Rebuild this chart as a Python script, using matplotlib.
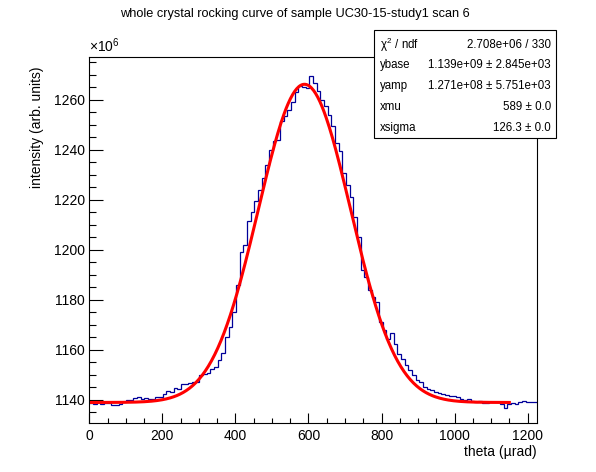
import numpy as np
import matplotlib
matplotlib.use("Agg")
import matplotlib.pyplot as plt
from matplotlib.ticker import MultipleLocator, FixedLocator

plt.rcParams['font.family'] = ['Liberation Sans', 'DejaVu Sans']
plt.rcParams['mathtext.fontset'] = 'custom'
plt.rcParams['mathtext.rm'] = 'Liberation Sans'
plt.rcParams['mathtext.it'] = 'Liberation Sans'

# ---- data (intensity in units of 1e6, theta in urad) ----
theta_min = 0.0
theta_max = 1225.0
intensity = [
    1138.7, 1138.5, 1139.0, 1138.3, 1138.8, 1138.6, 1138.0, 1137.8, 1138.2, 1139.3,
    1140.0, 1139.8, 1140.6, 1141.0, 1140.3, 1140.6, 1140.2, 1140.5, 1141.3, 1141.0,
    1142.5, 1143.5, 1143.0, 1144.7, 1144.5, 1146.4, 1146.2, 1146.6, 1147.3, 1147.0,
    1150.0, 1150.5, 1150.7, 1152.5, 1153.3, 1156.0, 1158.7, 1165.3, 1169.3, 1175.3,
    1186.0, 1199.0, 1202.0, 1211.3, 1215.0, 1219.5, 1224.0, 1228.7, 1234.0, 1240.0,
    1243.3, 1244.0, 1251.3, 1253.3, 1256.0, 1259.0, 1263.0, 1265.3, 1265.0, 1264.7,
    1269.5, 1266.5, 1263.3, 1260.0, 1257.5, 1254.0, 1249.3, 1242.7, 1239.3, 1230.7,
    1226.0, 1221.0, 1213.0, 1205.0, 1192.0, 1189.3, 1184.0, 1181.3, 1179.3, 1171.3,
    1168.0, 1164.5, 1166.7, 1162.2, 1158.5, 1156.5, 1154.0, 1152.0, 1150.0, 1148.0,
    1147.3, 1145.3, 1144.5, 1144.0, 1143.0, 1142.7, 1142.5, 1142.0, 1141.6, 1141.4,
    1141.2, 1140.2, 1140.0, 1140.3, 1139.5, 1139.3, 1139.6, 1138.7, 1138.9, 1139.3,
    1139.0, 1139.2, 1138.4, 1136.9, 1138.4, 1138.6, 1138.3, 1139.3, 1139.6, 1139.0,
    1139.2, 1139.0,
]

# fit parameters (from the stats box)
ybase = 1139.0      # x1e6
yamp = 127.1        # x1e6
xmu = 589.0
xsigma = 126.3
fit_range = (0.0, 1150.0)

stat_labels = [r"$\chi^{2}$ / ndf", "ybase", "yamp", "xmu", "xsigma"]
stat_values = ["2.708e+06 / 330", "1.139e+09 \u00b1 2.845e+03",
               "1.271e+08 \u00b1 5.751e+03", "589 \u00b1 0.0", "126.3 \u00b1 0.0"]

x_ticks = [0, 200, 400, 600, 800, 1000, 1200]
y_ticks = [1140, 1160, 1180, 1200, 1220, 1240, 1260]

# ---- figure ----
W, H = 596, 472
fig = plt.figure(figsize=(W / 100, H / 100), dpi=100)
L, R, T, B = 89.4, 536.7, 57.0, 423.0
ax = fig.add_axes([L / W, 1 - B / H, (R - L) / W, (B - T) / H])

n = len(intensity)
edges = np.linspace(theta_min, theta_max, n + 1)
ax.stairs(intensity, edges, color='#000099', linewidth=0.9, baseline=None)

xf = np.linspace(fit_range[0], fit_range[1], 400)
yf = ybase + yamp * np.exp(-(xf - xmu) ** 2 / (2 * xsigma ** 2))
ax.plot(xf, yf, color='#ff0000', linewidth=2.2)

ax.set_xlim(theta_min, theta_max)
ax.set_ylim(1130.8, 1277.0)
ax.xaxis.set_major_locator(FixedLocator(x_ticks))
ax.xaxis.set_minor_locator(MultipleLocator(50))
ax.yaxis.set_major_locator(FixedLocator(y_ticks))
ax.yaxis.set_minor_locator(MultipleLocator(5))
ax.tick_params(axis='both', which='both', direction='in', top=False, right=False,
               labelsize=10, width=0.8, color='black')
ax.tick_params(axis='x', which='major', length=7.5, pad=4)
ax.tick_params(axis='x', which='minor', length=3.8)
ax.tick_params(axis='y', which='major', length=10, pad=3)
ax.tick_params(axis='y', which='minor', length=5)
for s in ax.spines.values():
    s.set_linewidth(0.8)

fig.text(L / W, 1 - 52 / H, r"$\times10^{6}$", fontsize=10, ha='left', va='baseline')

fig.text(0.494, 1 - 14 / H, "whole crystal rocking curve of sample UC30-15-study1 scan 6",
         fontsize=9.2, ha='center', va='center')
fig.text(R / W, 1 - 452 / H, "theta (\u00b5rad)", fontsize=10, ha='right', va='center')
fig.text(37 / W, 1 - 66 / H, "intensity (arb. units)", fontsize=10, rotation=90,
         ha='right', va='center', rotation_mode='anchor')

# stats box
bx0, bx1, by0, by1 = 374, 556, 30, 138
box = plt.Rectangle((bx0 / W, 1 - by1 / H), (bx1 - bx0) / W, (by1 - by0) / H,
                    transform=fig.transFigure, facecolor='white', edgecolor='black',
                    linewidth=0.8, zorder=5)
fig.patches.append(box)
row_y = [45, 65, 86, 107, 128]
for lab, val, yy in zip(stat_labels, stat_values, row_y):
    fig.text(380 / W, 1 - yy / H, lab, fontsize=8.3, ha='left', va='center', zorder=6)
    fig.text(551 / W, 1 - yy / H, val, fontsize=8.3, ha='right', va='center', zorder=6)

fig.savefig("out.png", dpi=100)
